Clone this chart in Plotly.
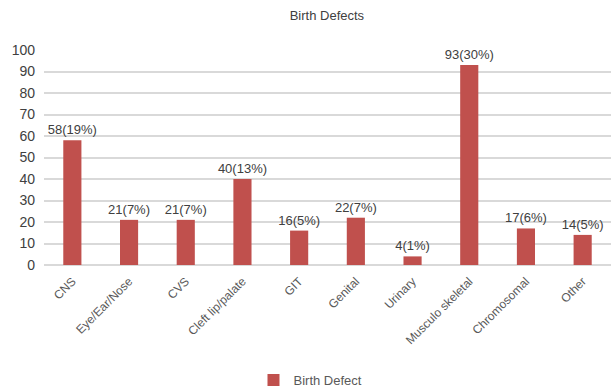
import plotly.graph_objects as go

categories = ["CNS", "Eye/Ear/Nose", "CVS", "Cleft lip/palate", "GIT", "Genital",
              "Urinary", "Musculo skeletal", "Chromosomal", "Other"]
counts = [58, 21, 21, 40, 16, 22, 4, 93, 17, 14]
percents = [19, 7, 7, 13, 5, 7, 1, 30, 6, 5]
y_ticks = [0, 10, 20, 30, 40, 50, 60, 70, 80, 90, 100]

labels = [f"{c}({p}%)" for c, p in zip(counts, percents)]
FONT = "Liberation Sans Narrow, Arial Narrow, Liberation Sans, Arial, sans-serif"

fig = go.Figure(go.Bar(
    x=categories, y=counts, name="Birth Defect",
    marker=dict(color="#C0504D", line=dict(width=0)),
    text=labels, textposition="outside", cliponaxis=False, constraintext="none",
    textfont=dict(family=FONT, size=13, color="#404040"),
    showlegend=True,
))

fig.update_layout(
    width=611, height=391,
    margin=dict(l=44, r=0, t=50, b=126, autoexpand=False),
    paper_bgcolor="white", plot_bgcolor="white",
    font=dict(family=FONT, color="#595959"),
    title=dict(text="Birth Defects", x=0.535, xanchor="center", y=0.96, yanchor="middle",
               font=dict(family=FONT, size=13, color="#404040")),
    bargap=0.68,
    showlegend=True,
    uniformtext=dict(mode=False),
    legend=dict(orientation="h", x=0.47, xanchor="center", y=-0.535, yanchor="middle",
                itemwidth=30, font=dict(family=FONT, size=13, color="#595959")),
    xaxis=dict(tickangle=-45, automargin=False, ticklabelstandoff=6,
               tickfont=dict(family="Liberation Sans, Arial, sans-serif", size=12, color="#595959"),
               showgrid=False, showline=False, ticks=""),
    yaxis=dict(range=[0, 100], tickvals=y_ticks, showgrid=True, gridcolor="#d9d9d9", gridwidth=1.5,
               automargin=False, ticklabelstandoff=8,
               zeroline=True, zerolinecolor="#d9d9d9", zerolinewidth=1.5,
               tickfont=dict(family=FONT, size=14, color="#404040"), ticks="", ticklen=0),
)

fig.write_html("out.html")
